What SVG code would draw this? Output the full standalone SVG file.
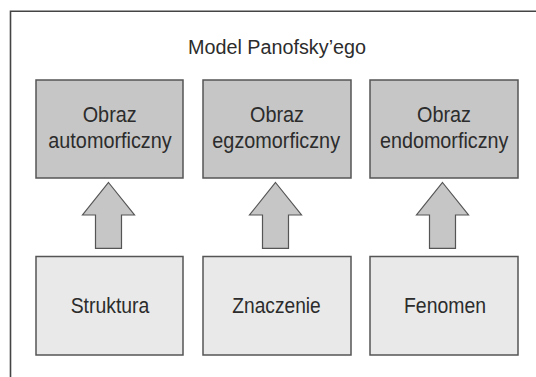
<svg xmlns="http://www.w3.org/2000/svg" width="536" height="377" viewBox="0 0 536 377">
<style>
.top{fill:#c6c6c6;stroke:#555;stroke-width:1.5}
.bot{fill:#e9e9e9;stroke:#555;stroke-width:1.5}
.arr{fill:#c6c6c6;stroke:#555;stroke-width:1.2}
text{font-family:"Liberation Sans",Arial,sans-serif;fill:#2c2c2c;text-anchor:middle}
.t{font-size:22.5px}
.title{font-size:20px}
</style>
<rect width="536" height="377" fill="#fff"/>
<g id="frame" fill="none" stroke="#444" stroke-width="1.6">
<path d="M10.5 377V11.2H536"/>
</g>
<text class="title" x="277" y="54.3" textLength="178" lengthAdjust="spacingAndGlyphs">Model Panofsky’ego</text>
<g id="connectors">
<path class="arr" d="M108.5 182.5L134.5 215H121.5V248.3H95.5V215H82.5Z"/>
<path class="arr" d="M275.5 182.5L301.5 215H288.5V248.3H262.5V215H249.5Z"/>
<path class="arr" d="M442.5 182.5L468.5 215H455.5V248.3H429.5V215H416.5Z"/>
</g>
<g id="n1"><rect class="top" x="36" y="80" width="147" height="98"/><text class="t" x="109.7" y="121.7" textLength="54" lengthAdjust="spacingAndGlyphs">Obraz</text><text class="t" x="110" y="148.3" textLength="123.4" lengthAdjust="spacingAndGlyphs">automorficzny</text></g>
<g id="n2"><rect class="top" x="203" y="80" width="148" height="98"/><text class="t" x="277" y="121.7" textLength="54" lengthAdjust="spacingAndGlyphs">Obraz</text><text class="t" x="276.2" y="148.3" textLength="127.7" lengthAdjust="spacingAndGlyphs">egzomorficzny</text></g>
<g id="n3"><rect class="top" x="370" y="80" width="148" height="98"/><text class="t" x="444" y="121.7" textLength="54" lengthAdjust="spacingAndGlyphs">Obraz</text><text class="t" x="444.2" y="148.3" textLength="128.3" lengthAdjust="spacingAndGlyphs">endomorficzny</text></g>
<g id="n4"><rect class="bot" x="36" y="256.5" width="147" height="98.5"/><text class="t" x="110" y="313.3" textLength="78.6" lengthAdjust="spacingAndGlyphs">Struktura</text></g>
<g id="n5"><rect class="bot" x="203" y="256.5" width="148" height="98.5"/><text class="t" x="276.5" y="313.3" textLength="88.4" lengthAdjust="spacingAndGlyphs">Znaczenie</text></g>
<g id="n6"><rect class="bot" x="370" y="256.5" width="148" height="98.5"/><text class="t" x="445" y="313.3" textLength="82" lengthAdjust="spacingAndGlyphs">Fenomen</text></g>
</svg>
